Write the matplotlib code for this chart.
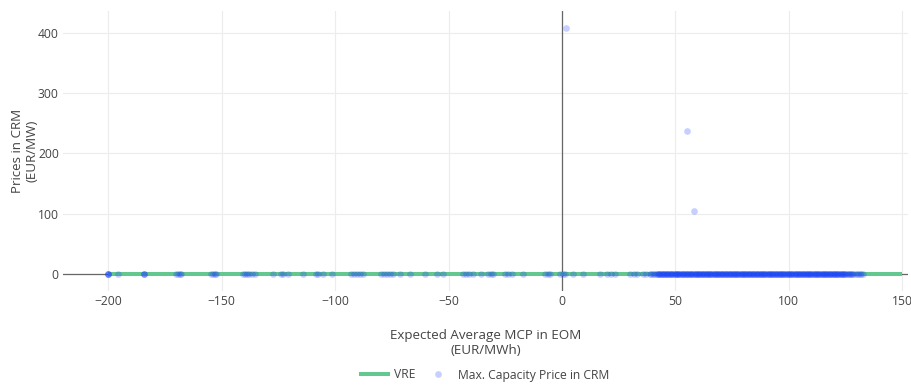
import numpy as np
import matplotlib
matplotlib.use("Agg")
import matplotlib.pyplot as plt
from matplotlib.lines import Line2D

# ---------------- data ----------------
vre_x = [-200, 150]
vre_y = [0, 0]

# capacity price points lying at 0 (negative / low price region)
crm_x_sparse = [-200, -200, -200, -200, -195.7, -184.2, -184.2, -184.2, -170.3, -169.5,
                -168.6, -167.8, -154.6, -153.9, -153.1, -152.4, -140.8, -139.6, -138.7,
                -137.9, -136.5, -135.2, -127.3, -123.8, -122.9, -120.8, -114.1, -108.3,
                -107.5, -105.4, -101.6, -92.9, -91.8, -90.5, -89.2, -87.7, -79.6, -78.4,
                -77.0, -75.6, -74.5, -71.5, -67.0, -60.4, -55.3, -52.4, -43.5, -42.2,
                -40.9, -39.3, -35.8, -32.4, -31.2, -30.3, -25.1, -23.6, -22.0, -17.0,
                -7.5, -6.2, -5.3, -0.9, 0.4, 1.3, 5.0, 9.4, 16.8, 19.7, 21.5, 23.4,
                30.1, 31.6, 33.0, 35.8, 37.2, 38.8]

# dense cloud of capacity price points at 0 (positive price region)
crm_x_dense = [39.2, 40.1, 40.8, 41.5, 42.3, 43.0, 43.6, 44.4, 45.1, 45.9, 46.5, 47.2,
               48.0, 48.7, 49.3, 50.1, 50.8, 51.4, 52.2, 52.9, 53.5, 54.3, 55.0, 55.6,
               56.4, 57.1, 57.8, 58.5, 59.2, 59.9, 60.6, 61.3, 62.0, 62.7, 63.4, 64.1,
               64.8, 65.5, 66.2, 66.9, 67.6, 68.3, 69.0, 69.7, 70.4, 71.1, 71.8, 72.5,
               73.2, 73.9, 74.6, 75.3, 76.0, 76.7, 77.4, 78.1, 78.8, 79.5, 80.2, 80.9,
               81.6, 82.3, 83.0, 83.7, 84.4, 85.1, 85.8, 86.5, 87.2, 87.9, 88.6, 89.3,
               90.0, 90.7, 91.4, 92.1, 92.8, 93.5, 94.2, 94.9, 95.6, 96.3, 97.0, 97.7,
               98.4, 99.1, 99.8, 100.5, 101.2, 101.9, 102.6, 103.3, 104.0, 104.7, 105.4,
               106.1, 106.8, 107.5, 108.2, 108.9, 109.6, 110.3, 111.0, 111.7, 112.4,
               113.1, 113.8, 114.5, 115.2, 115.9, 116.6, 117.3, 118.0, 118.7, 119.4,
               120.1, 120.8, 121.5, 122.2, 122.9, 123.6, 124.3, 125.0, 125.7, 126.4,
               127.1, 127.8, 128.5, 129.2, 129.9, 130.6, 131.3, 132.0, 132.7]
crm_x_dense2 = [42.8, 44.0, 45.5, 46.9, 48.3, 49.8, 51.1, 52.6, 54.0, 55.3, 56.8, 58.1,
                59.6, 61.0, 62.4, 63.8, 65.2, 66.6, 68.0, 69.4, 70.8, 72.2, 73.6, 75.0,
                76.4, 77.8, 79.2, 80.6, 82.0, 83.4, 84.8, 86.2, 87.6, 89.0, 90.4, 91.8,
                93.2, 94.6, 96.0, 97.4, 98.8, 100.2, 101.6, 103.0, 104.4, 105.8, 107.2,
                108.6, 110.0, 111.4, 112.8, 114.2, 115.6, 117.0, 118.4, 119.8, 121.2,
                122.6, 124.0]
crm_x_dense3 = [41.9, 43.3, 44.7, 46.2, 47.6, 49.0, 50.4, 51.8, 53.2, 54.6, 56.1, 57.5,
                58.9, 60.3, 61.7, 63.1, 64.5, 65.9, 67.3, 68.7, 70.1, 71.5, 72.9, 74.3,
                75.7, 77.1, 78.5, 79.9, 81.3, 82.7, 84.1, 85.5, 86.9, 88.3, 89.7, 91.1,
                92.5, 93.9, 95.3, 96.7, 98.1, 99.5, 100.9, 102.3, 103.7, 105.1, 106.5,
                107.9, 109.3, 110.7, 112.1, 113.5, 114.9, 116.3, 117.7, 119.1, 120.5,
                121.9, 123.3, 124.7, 126.1, 127.5]

# outliers with positive capacity prices
crm_x_high = [1.6, 55.0, 58.2]
crm_y_high = [408, 237, 104.5]

x_ticks = [-200, -150, -100, -50, 0, 50, 100, 150]
y_ticks = [0, 100, 200, 300, 400]

# ---------------- figure ----------------
W, H = 912, 385
fig = plt.figure(figsize=(W / 100, H / 100), dpi=100)
L, R, T, B = 63, 908, 11, 291
ax = fig.add_axes([L / W, 1 - B / H, (R - L) / W, (B - T) / H])

font = "Open Sans"
tcol = "#444444"
green = "#63c78f"
blue = "#1e40ff"

ax.plot(vre_x, vre_y, color=green, lw=2.9, zorder=3, solid_capstyle="butt")

zero_x = list(crm_x_sparse) + list(crm_x_dense) + list(crm_x_dense2) + list(crm_x_dense3)
zero_y = np.zeros(len(zero_x))
all_x = zero_x + crm_x_high
all_y = list(zero_y) + crm_y_high
ax.scatter(all_x, all_y, s=23, color=blue, alpha=0.25, linewidths=0, zorder=4)

ax.set_xlim(-220, 152.6)
ax.set_ylim(-28.5, 436.6)
ax.set_xticks(x_ticks)
ax.set_yticks(y_ticks)
ax.set_xticklabels(["\u2212200", "\u2212150", "\u2212100", "\u221250", "0", "50", "100", "150"])
ax.grid(True, color="#ececec", lw=0.8, zorder=0)
ax.set_axisbelow(True)
ax.axhline(0, color="#666666", lw=0.9, zorder=2)
ax.axvline(0, color="#666666", lw=0.9, zorder=2)
for s in ax.spines.values():
    s.set_visible(False)
ax.tick_params(length=0, pad=3, labelsize=8.7, labelcolor=tcol)
for lab in ax.get_xticklabels() + ax.get_yticklabels():
    lab.set_fontfamily(font)

# axis titles
fig.text((L + R) / 2 / W, 1 - 343 / H, "Expected Average MCP in EOM\n(EUR/MWh)",
         ha="center", va="center", fontsize=9.6, color=tcol, family=font, linespacing=1.2)
fig.text(25 / W, 1 - 151 / H, "Prices in CRM\n(EUR/MW)", rotation=90,
         ha="center", va="center", fontsize=9.6, color=tcol, family=font, linespacing=1.2)

# legend
handles = [Line2D([0], [0], color=green, lw=2.9),
           Line2D([0], [0], marker="o", ls="none", markersize=4.8, color=blue,
                  alpha=0.25, markeredgewidth=0)]
leg = fig.legend(handles, ["VRE", "Max. Capacity Price in CRM"], loc="center",
                 bbox_to_anchor=(485 / W, 1 - 375 / H), ncol=2, frameon=False,
                 handlelength=2.25, handletextpad=0.5, columnspacing=0.75,
                 prop={"family": font, "size": 8.7}, labelcolor=tcol)

fig.savefig("out.png", dpi=100)
